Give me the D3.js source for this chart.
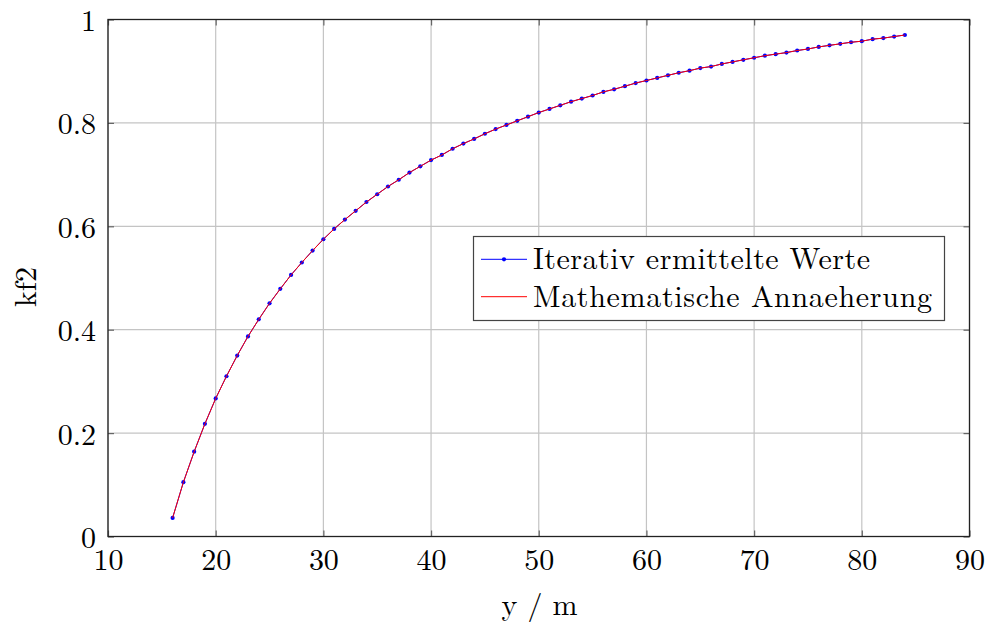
<!DOCTYPE html>
<html>
<head>
<meta charset="utf-8">
<script src="https://cdn.jsdelivr.net/npm/d3@7/dist/d3.min.js"></script>
<style>
  body { margin: 0; background: #fff; }
  svg text { font-family: "Latin Modern Roman", "CMU Serif", "Liberation Serif", "DejaVu Serif", serif; fill: #000; }
</style>
</head>
<body>
<svg id="chart" width="987" height="623"></svg>
<script>
// y positions (m) of the iterated values
const yPositions = [16,17,18,19,20,21,22,23,24,25,26,27,28,29,30,31,32,33,34,35,36,37,38,39,40,
  41,42,43,44,45,46,47,48,49,50,51,52,53,54,55,56,57,58,59,60,61,62,63,64,65,66,67,68,69,70,
  71,72,73,74,75,76,77,78,79,80,81,82,83,84];
// kf2 from the iteration
const iterValues = [0.036,0.105,0.164,0.218,0.267,0.310,0.350,0.387,0.420,0.451,0.479,0.506,0.530,0.553,0.575,
  0.595,0.613,0.630,0.647,0.662,0.677,0.690,0.704,0.716,0.728,0.738,0.750,0.760,0.769,0.779,0.788,0.796,0.804,
  0.812,0.820,0.827,0.834,0.841,0.847,0.853,0.860,0.865,0.871,0.877,0.882,0.887,0.892,0.897,0.901,0.906,0.909,
  0.914,0.918,0.922,0.926,0.930,0.933,0.936,0.940,0.943,0.947,0.950,0.953,0.956,0.958,0.962,0.964,0.967,0.970];
// kf2 from the closed-form approximation
const fitValues = [0.036,0.105,0.164,0.218,0.267,0.310,0.350,0.387,0.420,0.451,0.479,0.506,0.530,0.553,0.575,
  0.595,0.613,0.630,0.647,0.662,0.677,0.690,0.704,0.716,0.728,0.738,0.750,0.760,0.769,0.779,0.788,0.796,0.804,
  0.812,0.820,0.827,0.834,0.841,0.847,0.853,0.860,0.865,0.871,0.877,0.882,0.887,0.892,0.897,0.901,0.906,0.909,
  0.914,0.918,0.922,0.926,0.930,0.933,0.936,0.940,0.943,0.947,0.950,0.953,0.956,0.958,0.962,0.964,0.967,0.970];
const xTicks = [10,20,30,40,50,60,70,80,90];
const yTicks = [0,0.2,0.4,0.6,0.8,1];
const seriesNames = ["Iterativ ermittelte Werte", "Mathematische Annaeherung"];
const xLabel = "y / m";
const yLabel = "kf2";

const svg = d3.select("#chart");
const L = 108, R = 969.5, T = 19.5, B = 536.5;
const x = d3.scaleLinear().domain([10, 90]).range([L, R]);
const y = d3.scaleLinear().domain([0, 1]).range([B, T]);
const FS = 30;

// grid
const grid = svg.append("g");
grid.selectAll("line.gx").data(xTicks).join("line")
  .attr("x1", d => x(d)).attr("x2", d => x(d)).attr("y1", T).attr("y2", B)
  .attr("stroke", "#c4c4c4").attr("stroke-width", 1.2);
grid.selectAll("line.gy").data(yTicks).join("line")
  .attr("y1", d => y(d)).attr("y2", d => y(d)).attr("x1", L).attr("x2", R)
  .attr("stroke", "#c4c4c4").attr("stroke-width", 1.2);

// axes with inward ticks on all four sides
const tickLen = 6;
const fmt = d => d === 0 || d === 1 ? String(d) : d3.format(".1f")(d);
function styleAxis(g) {
  g.select(".domain").remove();
  g.selectAll(".tick line").attr("stroke", "#666").attr("stroke-width", 1.2);
  g.selectAll(".tick text").attr("font-size", FS);
}
svg.append("g").attr("transform", `translate(0,${B})`)
  .call(d3.axisBottom(x).tickValues(xTicks).tickSize(-tickLen).tickFormat(d3.format("d")))
  .call(styleAxis)
  .call(g => g.selectAll(".tick text").attr("dy", null).attr("y", 33.5));
svg.append("g").attr("transform", `translate(0,${T})`)
  .call(d3.axisTop(x).tickValues(xTicks).tickSize(-tickLen).tickFormat(""))
  .call(styleAxis);
svg.append("g").attr("transform", `translate(${L},0)`)
  .call(d3.axisLeft(y).tickValues(yTicks).tickSize(-tickLen).tickFormat(fmt))
  .call(styleAxis)
  .call(g => g.selectAll(".tick text").attr("dy", null).attr("y", 11).attr("x", -12));
svg.append("g").attr("transform", `translate(${R},0)`)
  .call(d3.axisRight(y).tickValues(yTicks).tickSize(-tickLen).tickFormat(""))
  .call(styleAxis);

// frame
svg.append("rect").attr("x", L).attr("y", T).attr("width", R - L).attr("height", B - T)
  .attr("fill", "none").attr("stroke", "#222").attr("stroke-width", 1.3);

// series
const iterData = yPositions.map((p, i) => [p, iterValues[i]]);
const fitData = yPositions.map((p, i) => [p, fitValues[i]]);
const line = d3.line().x(d => x(d[0])).y(d => y(d[1]));
svg.append("path").datum(iterData).attr("d", line)
  .attr("fill", "none").attr("stroke", "#0000ff").attr("stroke-width", 1);
svg.append("g").selectAll("circle").data(iterData).join("circle")
  .attr("cx", d => x(d[0])).attr("cy", d => y(d[1])).attr("r", 2.1).attr("fill", "#0000ff");
svg.append("path").datum(fitData).attr("d", line)
  .attr("fill", "none").attr("stroke", "#ff0000").attr("stroke-width", 1);

// axis labels
svg.append("text").attr("x", 539.5).attr("y", 615).attr("text-anchor", "middle")
  .attr("font-size", FS).attr("xml:space", "preserve").text(xLabel);
svg.append("text").attr("transform", `translate(36,287) rotate(-90)`)
  .attr("text-anchor", "middle").attr("font-size", FS).text(yLabel);

// legend
const lg = svg.append("g");
lg.append("rect").attr("x", 473.5).attr("y", 236.5).attr("width", 471).attr("height", 84)
  .attr("fill", "#fff").attr("stroke", "#444").attr("stroke-width", 1.2);
const rows = [
  { name: seriesNames[0], color: "#0000ff", marker: true, cy: 259.3, base: 269, w: 337 },
  { name: seriesNames[1], color: "#ff0000", marker: false, cy: 296.7, base: 306.5, w: 399 }
];
rows.forEach(r => {
  lg.append("line").attr("x1", 481).attr("x2", 527).attr("y1", r.cy).attr("y2", r.cy)
    .attr("stroke", r.color).attr("stroke-width", 1);
  if (r.marker) lg.append("circle").attr("cx", 504).attr("cy", r.cy).attr("r", 2.1).attr("fill", r.color);
  lg.append("text").attr("x", 533).attr("y", r.base).attr("font-size", 30)
    .attr("textLength", r.w).attr("lengthAdjust", "spacing").text(r.name);
});
</script>
</body>
</html>
